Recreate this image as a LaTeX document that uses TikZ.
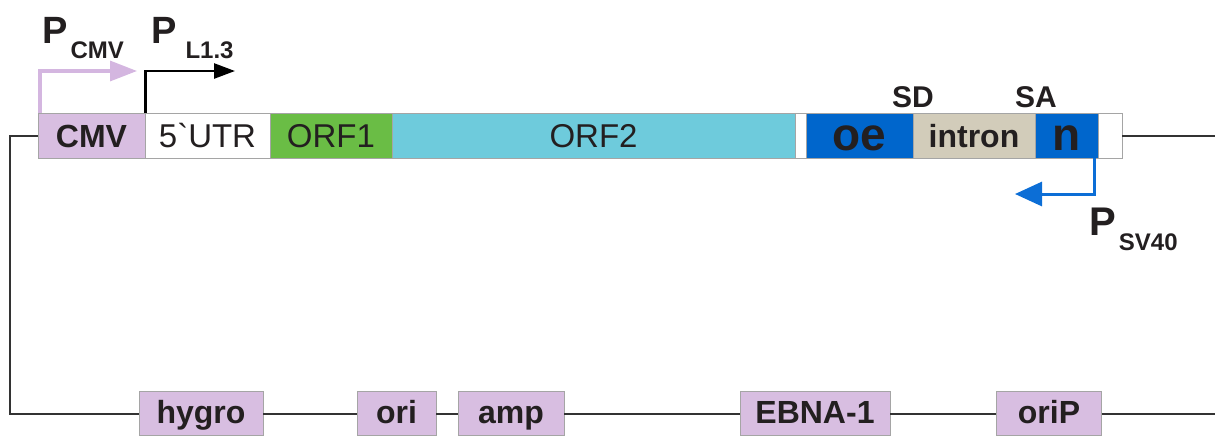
\documentclass[tikz,border=0pt]{standalone}
\usepackage{fontspec}
\setmainfont{Liberation Sans}
\usetikzlibrary{arrows.meta}
\definecolor{cmvc}{RGB}{216,190,225}
\definecolor{orfonec}{RGB}{106,189,69}
\definecolor{orftwoc}{RGB}{110,203,220}
\definecolor{bluec}{RGB}{0,102,204}
\definecolor{intronc}{RGB}{210,204,186}
\definecolor{cmvarr}{RGB}{212,182,224}
\definecolor{svc}{RGB}{12,110,214}
\definecolor{edgec}{RGB}{165,165,165}
\definecolor{txtc}{RGB}{35,31,32}
\newcommand\psubfont{\fontsize{24}{24}\selectfont\bfseries}
\begin{document}
\begin{tikzpicture}[x=1pt,y=-1pt,
  seg/.style={draw=edgec, line width=0.9pt, minimum height=45pt, inner sep=0pt,
    text height=23pt, text depth=0pt, text=txtc, font=\fontsize{33}{33}\selectfont},
  segb/.style={seg, font=\fontsize{32}{32}\selectfont\bfseries},
  bigseg/.style={seg, fill=bluec, font=\fontsize{46}{46}\selectfont\bfseries, text height=29pt},
  gene/.style={segb, fill=cmvc, minimum height=44pt, text height=20pt},
  backbone/.style={line width=2pt, draw=black!80},
  lab/.style={inner sep=0pt, text=txtc, font=\fontsize{30}{30}\selectfont\bfseries},
  plab/.style={inner sep=0pt, text=txtc, anchor=base west, font=\fontsize{38}{38}\selectfont\bfseries}
]
\useasboundingbox (0,0) rectangle (1215,437);

% top bar
\node[segb, fill=cmvc, minimum width=107pt] (cmv) at (91.5,135.5) {CMV};
\node[seg, fill=white, minimum width=125pt] (utr) at (207.5,135.5) {5\textasciigrave UTR};
\node[seg, fill=orfonec, minimum width=122pt] (orfone) at (331,135.5) {ORF1};
\node[seg, fill=orftwoc, minimum width=403pt] (orftwo) at (593.5,135.5) {ORF2};
\node[seg, fill=white, minimum width=11pt] (gapa) at (800.5,135.5) {};
\node[bigseg, minimum width=107pt] (oe) at (859.5,135.5) {oe};
\node[segb, fill=intronc, minimum width=122pt] (intron) at (974,135.5) {intron};
\node[bigseg, minimum width=63pt] (n) at (1066.5,135.5) {n};
\node[seg, fill=white, minimum width=24pt] (gapb) at (1110,135.5) {};

% splice labels
\node[lab, anchor=base] (sd) at (913,107) {SD};
\node[lab, anchor=base] (sa) at (1036,107) {SA};

% bottom genes
\node[gene, minimum width=124pt] (hygro) at (201,413.5) {hygro};
\node[gene, minimum width=79pt] (ori) at (396.5,413.5) {ori};
\node[gene, minimum width=106pt] (amp) at (511,413.5) {amp};
\node[gene, minimum width=150pt] (ebna) at (815,413.5) {EBNA-1};
\node[gene, minimum width=105pt] (orip) at (1049,413.5) {oriP};

% backbone
\coordinate (lc) at (10,413.5);
\coordinate (re) at (1215,135.5);
\coordinate (be) at (1215,413.5);
\draw[backbone] (cmv.west) -| (lc) -- (hygro.west);
\draw[backbone] (hygro.east) -- (ori.west);
\draw[backbone] (ori.east) -- (amp.west);
\draw[backbone] (amp.east) -- (ebna.west);
\draw[backbone] (ebna.east) -- (orip.west);
\draw[backbone] (orip.east) -- (be);
\draw[backbone] (gapb.east) -- (re);

% promoters
\coordinate (cmvtip) at (137,71);
\coordinate (lonetip) at (235,71);
\coordinate (svtip) at (1015,194);
\draw[draw=cmvarr, line width=3.2pt, -{Triangle[length=27pt,width=20pt]}]
  ([xshift=2.5pt]cmv.north west) |- (cmvtip);
\draw[draw=black, line width=2.6pt, -{Triangle[length=21pt,width=15pt]}]
  ([xshift=1pt]utr.north west) |- (lonetip);
\draw[draw=svc, line width=3pt, -{Triangle[length=27pt,width=24pt]}]
  ([xshift=-3.5pt]n.south east) |- (svtip);

\node[plab] (pcmv) at (42,43) {P\hspace{3pt}\raisebox{-15pt}{\psubfont CMV}};
\node[plab] (plone) at (151,43) {P\hspace{9pt}\raisebox{-15pt}{\psubfont L1.3}};
\node[plab, font=\fontsize{40}{40}\selectfont\bfseries] (psv) at (1089,235) {P\hspace{3pt}\raisebox{-15pt}{\psubfont SV40}};
\end{tikzpicture}
\end{document}
